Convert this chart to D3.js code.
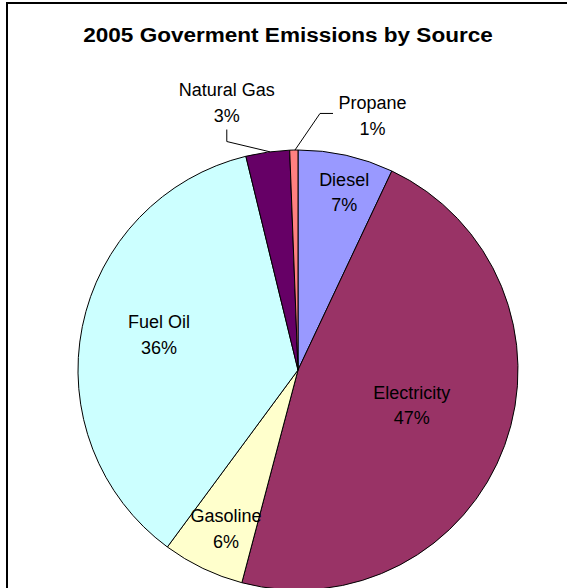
<!DOCTYPE html>
<html>
<head>
<meta charset="utf-8">
<script src="https://cdn.jsdelivr.net/npm/d3@7"></script>
<style>
html,body{margin:0;padding:0;background:#fff;}
svg{display:block;}
text{font-family:"Liberation Sans",Arial,sans-serif;}
</style>
</head>
<body>
<svg id="chart" width="567" height="588"></svg>
<script>
const title = "2005 Goverment Emissions by Source";
const categories = ["Diesel", "Electricity", "Gasoline", "Fuel Oil", "Natural Gas", "Propane"];
const values = [7, 47, 6, 36, 3.2, 0.6];
const colors = ["#9999FF", "#993366", "#FFFFCC", "#CCFFFF", "#660066", "#FF8080"];
// label placement (polar, relative to slice mid-angle)
const labelAngleShift = [2.4, 0, -2, 0.6, -7.3, 17.8];
const labelRadius = [178, 121, 180, 142, 271, 259];
const leaderEndShift = [0, 0, 0, 0, 0.6, 0.3];
const hasLeader = [false, false, false, false, true, true];

const svg = d3.select("#chart");
const W = 567, H = 588;
const cx = 298, cy = 370, R = 220;

// frame
svg.append("path")
  .attr("d", `M7,${H+5} L7,3 L${W+5},3`)
  .attr("fill", "none").attr("stroke", "#000").attr("stroke-width", 2);

svg.append("g").attr("transform", "translate(288,42) scale(1.1,1)")
  .append("text")
  .attr("x", 0).attr("y", 0)
  .attr("text-anchor", "middle")
  .attr("font-size", 20.5).attr("font-weight", "bold")
  .text(title);

const data = categories.map((c, i) => ({ name: c, value: values[i], color: colors[i], i }));
const pie = d3.pie().sort(null).value(d => d.value).startAngle(0).endAngle(2 * Math.PI);
const arcs = pie(data);
const arc = d3.arc().innerRadius(0).outerRadius(R);

const g = svg.append("g").attr("transform", `translate(${cx},${cy})`);
g.selectAll("path.slice").data(arcs).enter().append("path")
  .attr("class", "slice")
  .attr("d", arc)
  .attr("fill", d => d.data.color)
  .attr("stroke", "#000").attr("stroke-width", 1);

const total = d3.sum(values);
function polar(angle, r) { return [r * Math.sin(angle), -r * Math.cos(angle)]; }

arcs.forEach((a, i) => {
  const mid = (a.startAngle + a.endAngle) / 2;
  const ang = mid + labelAngleShift[i] * Math.PI / 180;
  const [lx, ly] = polar(ang, labelRadius[i]);
  const pct = Math.round(a.data.value / total * 100) + "%";
  const t = g.append("text").attr("text-anchor", "middle").attr("font-size", 18).attr("fill", "#000");
  t.append("tspan").attr("x", lx).attr("y", ly - 12.5).text(a.data.name);
  t.append("tspan").attr("x", lx).attr("y", ly + 13).text(pct);

  if (hasLeader[i]) {
    const [ex, ey] = polar(mid + leaderEndShift[i] * Math.PI / 180, R);
    let pts;
    if (lx < 0) {
      pts = [[lx, ly + 21], [lx, ly + 33], [ex, ey]];
    } else {
      pts = [[lx - 39.5, ly - 8.5], [lx - 52.5, ly - 8.5], [ex, ey]];
    }
    g.append("path")
      .attr("d", d3.line()(pts))
      .attr("fill", "none").attr("stroke", "#000").attr("stroke-width", 1);
  }
});
</script>
</body>
</html>
